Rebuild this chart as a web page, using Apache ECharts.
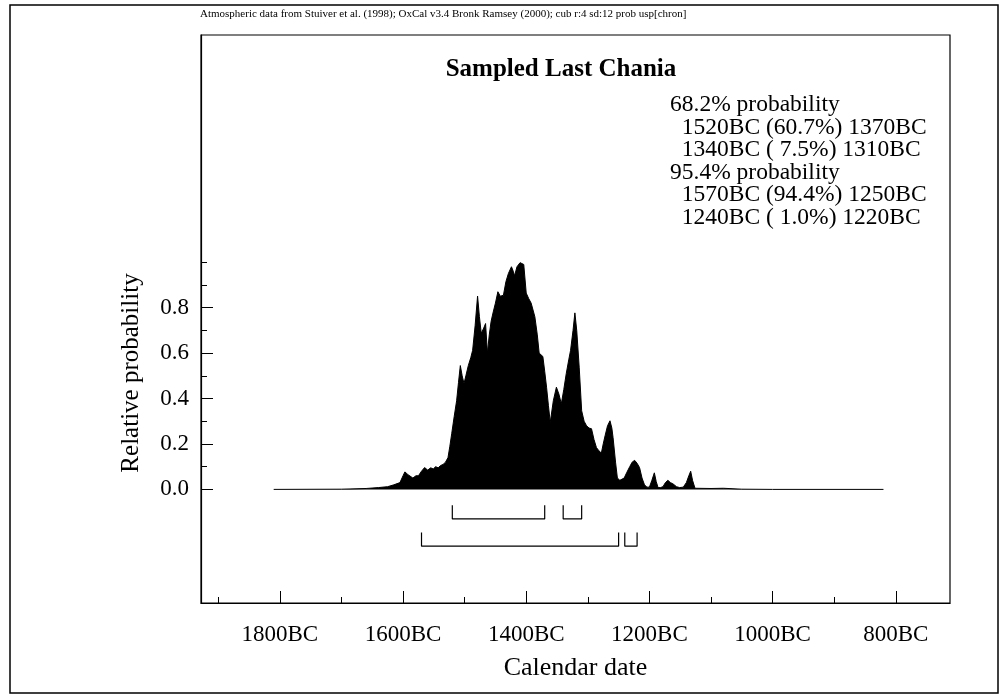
<!DOCTYPE html>
<html><head><meta charset="utf-8">
<script src="https://cdn.jsdelivr.net/npm/echarts@6/dist/echarts.min.js"></script>
<style>html,body{margin:0;padding:0;background:#fff}#c{width:1004px;height:695px}</style>
</head><body><div id="c"></div>
<script>
// calendar years (BC) and relative probability
const yearsBC = [1810,1700,1660,1640,1625,1615,1605,1600,1597,1592,1584,1579,1575,1570,1565,1560,1555,1551,1547,1543,1539,1535,1531,1527,1524,1521,1517,1513,1510,1507,1504,1501,1498,1494,1490,1487,1483,1479,1476,1473,1469,1466,1463,1460,1457,1454,1450,1446,1442,1437,1433,1429,1424,1421,1419,1415,1410,1407,1404,1400,1396,1392,1386,1382,1379,1373,1370,1367,1364,1361,1356,1351,1347,1343,1339,1335,1331,1328,1324,1321,1318,1314,1310,1306,1302,1298,1294,1290,1286,1282,1278,1275,1272,1268,1264,1261,1259,1255,1252,1248,1245,1241,1237,1232,1228,1224,1220,1216,1212,1208,1204,1200,1196,1192,1189,1186,1182,1178,1174,1170,1166,1162,1156,1151,1145,1140,1136,1133,1130,1126,1100,1080,1050,1000,820];
const probs = [0,0.001,0.004,0.008,0.012,0.02,0.03,0.06,0.077,0.065,0.05,0.06,0.06,0.08,0.096,0.085,0.095,0.09,0.1,0.095,0.105,0.11,0.12,0.14,0.19,0.245,0.32,0.39,0.47,0.545,0.5,0.466,0.5,0.545,0.58,0.612,0.72,0.851,0.76,0.687,0.71,0.73,0.6,0.68,0.74,0.776,0.82,0.87,0.85,0.855,0.914,0.95,0.98,0.96,0.94,0.98,0.998,0.99,0.99,0.864,0.84,0.82,0.76,0.68,0.6,0.585,0.52,0.45,0.37,0.295,0.39,0.45,0.42,0.377,0.44,0.51,0.57,0.612,0.7,0.777,0.7,0.538,0.346,0.3,0.28,0.27,0.267,0.22,0.184,0.17,0.16,0.2,0.236,0.28,0.302,0.27,0.228,0.12,0.05,0.04,0.036,0.05,0.073,0.1,0.12,0.128,0.115,0.096,0.05,0.02,0.01,0.01,0.04,0.073,0.035,0.008,0.008,0.012,0.03,0.04,0.03,0.025,0.012,0.008,0.01,0.03,0.06,0.08,0.04,0.005,0.004,0.005,0.001,0,0];
const xTickYears = [1800,1600,1400,1200,1000,800];
const xMinorYears = [1900,1700,1500,1300,1100,900];
const yTickValues = [0,0.2,0.4,0.6,0.8];
const yMinorValues = [0.1,0.3,0.5,0.7,0.9,1.0];
const range68 = [[1520,1370],[1340,1310]];
const range95 = [[1570,1250],[1240,1220]];
const titleText = 'Sampled Last Chania';
const headerText = 'Atmospheric data from Stuiver et al. (1998); OxCal v3.4 Bronk Ramsey (2000); cub r:4 sd:12 prob usp[chron]';
const annotationLines = ['68.2% probability','  1520BC (60.7%) 1370BC','  1340BC ( 7.5%) 1310BC','95.4% probability','  1570BC (94.4%) 1250BC','  1240BC ( 1.0%) 1220BC'];
const xName = 'Calendar date';
const yName = 'Relative probability';

const FONT = '"Liberation Serif","Times New Roman",serif';
const chart = echarts.init(document.getElementById('c'), null, {renderer:'canvas'});

function bracketSeries(r, top, bottom){
  return {type:'line', xAxisIndex:0, yAxisIndex:0, symbol:'none', silent:true,
    lineStyle:{color:'#000', width:1.2},
    data:[[-r[0],top],[-r[0],bottom],[-r[1],bottom],[-r[1],top]]};
}

const series = [{
  type:'line', xAxisIndex:0, yAxisIndex:0, symbol:'none', silent:true,
  data: yearsBC.map((y,i)=>[-y, probs[i]]),
  lineStyle:{color:'#000', width:1},
  areaStyle:{color:'#000', opacity:1}
}];
range68.forEach(r=>series.push(bracketSeries(r,-0.07,-0.13)));
range95.forEach(r=>series.push(bracketSeries(r,-0.19,-0.25)));

const xCommon = {type:'value', min:-1928, max:-712, splitLine:{show:false}};
const yCommon = {type:'value', min:-0.5, max:2.0, splitLine:{show:false}};

chart.setOption({
  animation:false,
  backgroundColor:'#fff',
  grid:{left:201, top:35, right:54, bottom:92, show:true, borderColor:'#000', borderWidth:1.2, backgroundColor:'transparent'},
  xAxis:[
    Object.assign({}, xCommon, {
      position:'bottom',
      axisLine:{show:true, onZero:false, lineStyle:{color:'#000', width:1.2}},
      axisTick:{show:true, inside:true, length:12, customValues:xTickYears.map(v=>-v), lineStyle:{color:'#000', width:1}},
      axisLabel:{show:true, customValues:xTickYears.map(v=>-v), formatter:v=>(-v)+'BC', fontFamily:FONT, fontSize:23, color:'#000', margin:20},
      name:xName, nameLocation:'middle', nameGap:52,
      nameTextStyle:{fontFamily:FONT, fontSize:26, color:'#000'}
    }),
    Object.assign({}, xCommon, {
      position:'bottom',
      axisLine:{show:false, onZero:false},
      axisTick:{show:true, inside:true, length:6, customValues:xMinorYears.map(v=>-v), lineStyle:{color:'#000', width:1}},
      axisLabel:{show:false}
    })
  ],
  yAxis:[
    Object.assign({}, yCommon, {
      position:'left',
      axisLine:{show:true, onZero:false, lineStyle:{color:'#000', width:1.2}},
      axisTick:{show:true, inside:true, length:12, customValues:yTickValues, lineStyle:{color:'#000', width:1}},
      axisLabel:{show:true, customValues:yTickValues, formatter:v=>v.toFixed(1), fontFamily:FONT, fontSize:23, color:'#000', margin:12}
    }),
    Object.assign({}, yCommon, {
      position:'left',
      axisLine:{show:false, onZero:false},
      axisTick:{show:true, inside:true, length:6, customValues:yMinorValues, lineStyle:{color:'#000', width:1}},
      axisLabel:{show:false}
    })
  ],
  series: series,
  graphic:[
    {type:'rect', shape:{x:10, y:5, width:988, height:688}, style:{fill:'none', stroke:'#000', lineWidth:1.5}, silent:true},
    {type:'text', x:200, y:14, style:{text:headerText, font:'11px '+FONT, fill:'#000', align:'left', verticalAlign:'middle'}, silent:true},
    {type:'text', x:561, y:70, style:{text:titleText, font:'bold 25px '+FONT, fill:'#000', align:'center', verticalAlign:'middle'}, silent:true},
    {type:'text', x:670, y:94, style:{text:annotationLines.join('\n'), font:'23.5px '+FONT, lineHeight:22.5, fill:'#000', align:'left', verticalAlign:'top'}, silent:true},
    {type:'text', x:131, y:373, rotation:Math.PI/2, style:{text:yName, font:'25px '+FONT, fill:'#000', align:'center', verticalAlign:'middle'}, silent:true}
  ]
});
</script></body></html>
